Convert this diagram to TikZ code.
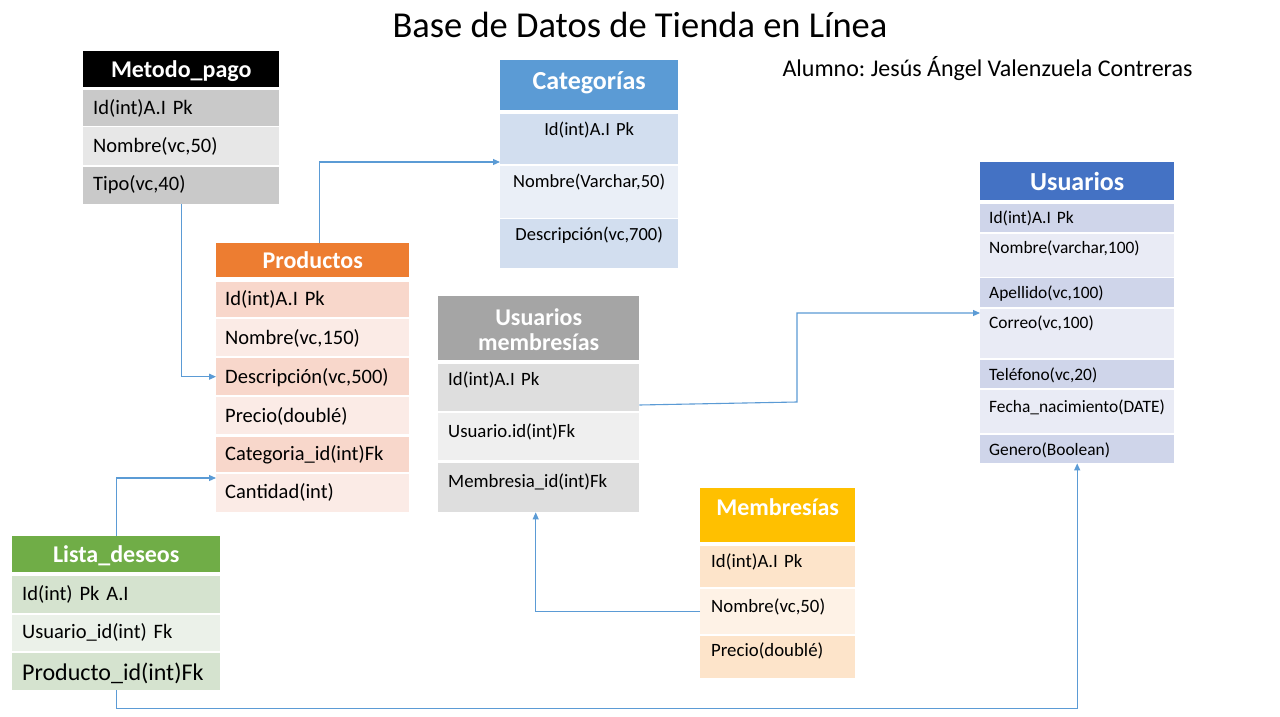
\documentclass[tikz,border=0pt]{standalone}
\usepackage{fontspec}
\setmainfont{Carlito}
\frenchspacing
\usetikzlibrary{arrows.meta}

\definecolor{azul}{HTML}{5B9BD5}
\definecolor{pagoA}{HTML}{C9C9C9}
\definecolor{pagoB}{HTML}{E7E7E7}
\definecolor{catH}{HTML}{5B9BD5}
\definecolor{catA}{HTML}{D2DEEF}
\definecolor{catB}{HTML}{EAEFF7}
\definecolor{usuH}{HTML}{4472C4}
\definecolor{usuA}{HTML}{CFD5EA}
\definecolor{usuB}{HTML}{E9EBF5}
\definecolor{prodH}{HTML}{ED7D31}
\definecolor{prodA}{HTML}{F8D7CB}
\definecolor{prodB}{HTML}{FBEBE6}
\definecolor{umH}{HTML}{A5A5A5}
\definecolor{umA}{HTML}{DEDEDE}
\definecolor{umB}{HTML}{EFEFEF}
\definecolor{memH}{HTML}{FFC000}
\definecolor{memA}{HTML}{FDE4CA}
\definecolor{memB}{HTML}{FEF2E6}
\definecolor{listaH}{HTML}{70AD47}
\definecolor{listaA}{HTML}{D5E3CF}
\definecolor{listaB}{HTML}{EBF1E9}

\tikzset{
  fila/.style n args={3}{anchor=north west, inner ysep=0pt, align=left, fill=#1, text height=#2pt, text depth=#3pt},
  cabecera/.style={align=center, text=white, font=\bfseries\fontsize{24}{25}\selectfont},
  tpago/.style={text width=176pt, inner xsep=10pt, font=\fontsize{20.5}{24}\selectfont},
  tprod/.style={text width=175pt, inner xsep=9pt, font=\fontsize{20.5}{24}\selectfont},
  tcat/.style={text width=168pt, inner xsep=5pt, align=center, font=\fontsize{18.5}{22}\selectfont},
  tusu/.style={text width=176pt, inner xsep=9pt, font=\fontsize{17.4}{20}\selectfont},
  tum/.style={text width=181pt, inner xsep=10pt, font=\fontsize{18.8}{22}\selectfont},
  tmem/.style={text width=133pt, inner xsep=11pt, font=\fontsize{18.8}{22}\selectfont},
  tlista/.style={text width=188pt, inner xsep=10pt, font=\fontsize{20.5}{24}\selectfont},
  conector/.style={draw=azul, line width=1.1pt, ->},
}

\begin{document}
\begin{tikzpicture}[x=1pt, y=-1pt, >={Triangle[length=7pt,width=6pt]}]
\fill[white] (0,0) rectangle (1280,717);
\useasboundingbox (0,0) rectangle (1280,717);

\node[anchor=base, font=\fontsize{36.5}{40}\selectfont] (titulo) at (640,38) {Base de Datos de Tienda en Línea};
\node[anchor=base west, font=\fontsize{24}{28}\selectfont] (alumno) at (779,77) {Alumno: Jesús Ángel Valenzuela Contreras};

% Metodo_pago
\node[fila={black}{26}{10}, tpago, cabecera] (pago) at (83,51) {Metodo\_pago};
\node[fila={pagoA}{24}{12}, tpago] (pago1) at (83,90) {Id(int)A.I Pk};
\node[fila={pagoB}{25}{13}, tpago] (pago2) at (83,127) {Nombre(vc,50)};
\node[fila={pagoA}{23}{14}, tpago] (pago3) at (83,167) {Tipo(vc,40)};

% Categorias
\node[fila={catH}{29}{21}, tcat, cabecera, font=\bfseries\fontsize{26}{28}\selectfont] (cat) at (500,60) {Categorías};
\node[fila={catA}{21}{29}, tcat] (cat1) at (500,114) {Id(int)A.I Pk};
\node[fila={catB}{21}{31}, tcat] (cat2) at (500,166) {Nombre(Varchar,50)};
\node[fila={catA}{21}{28}, tcat] (cat3) at (500,219) {Descripción(vc,700)};

% Usuarios
\node[fila={usuH}{28}{10}, tusu, cabecera, font=\bfseries\fontsize{26}{28}\selectfont] (usu) at (980,162) {Usuarios};
\node[fila={usuA}{19}{9}, tusu] (usu1) at (980,204) {Id(int)A.I Pk};
\node[fila={usuB}{19}{24}, tusu] (usu2) at (980,234) {Nombre(varchar,100)};
\node[fila={usuA}{20}{9}, tusu] (usu3) at (980,278) {Apellido(vc,100)};
\node[fila={usuB}{19}{30}, tusu] (usu4) at (980,309) {Correo(vc,100)};
\node[fila={usuA}{20}{8}, tusu] (usu5) at (980,360) {Teléfono(vc,20)};
\node[fila={usuB}{22}{21}, tusu] (usu6) at (980,390) {Fecha\_nacimiento(DATE)};
\node[fila={usuA}{20}{8}, tusu] (usu7) at (980,435) {Genero(Boolean)};

% Productos
\node[fila={prodH}{25}{9}, tprod, cabecera] (prod) at (216,243) {Productos};
\node[fila={prodA}{23}{12}, tprod] (prod1) at (216,282) {Id(int)A.I Pk};
\node[fila={prodB}{25}{12}, tprod] (prod2) at (216,319) {Nombre(vc,150)};
\node[fila={prodA}{25}{12}, tprod] (prod3) at (216,358) {Descripción(vc,500)};
\node[fila={prodB}{25}{12}, tprod] (prod4) at (216,397) {Precio(doublé)};
\node[fila={prodA}{23}{12}, tprod] (prod5) at (216,437) {Categoria\_id(int)Fk};
\node[fila={prodB}{24}{14}, tprod] (prod6) at (216,474) {Cantidad(int)};

% Usuarios membresias
\node[fila={umH}{29}{35}, tum, cabecera] (um) at (438,296) {Usuarios\\membresías};
\node[fila={umA}{21}{26}, tum] (um1) at (438,364) {Id(int)A.I Pk};
\node[fila={umB}{24}{23}, tum] (um2) at (438,413) {Usuario.id(int)Fk};
\node[fila={umA}{24}{25}, tum] (um3) at (438,463) {Membresia\_id(int)Fk};

% Membresias
\node[fila={memH}{27}{27}, tmem, cabecera] (mem) at (700,488) {Membresías};
\node[fila={memA}{21}{20}, tmem] (mem1) at (700,546) {Id(int)A.I Pk};
\node[fila={memB}{23}{22}, tmem] (mem2) at (700,589) {Nombre(vc,50)};
\node[fila={memA}{20}{22}, tmem] (mem3) at (700,636) {Precio(doublé)};

% Lista_deseos
\node[fila={listaH}{26}{10}, tlista, cabecera] (lista) at (12,536) {Lista\_deseos};
\node[fila={listaA}{24}{13}, tlista] (lista1) at (12,576) {Id(int) Pk A.I};
\node[fila={listaB}{23}{13}, tlista] (lista2) at (12,615) {Usuario\_id(int) Fk};
\node[fila={listaA}{27}{10}, tlista, font=\fontsize{24}{28}\selectfont] (lista3) at (12,653) {Producto\_id(int)Fk};

\coordinate (codo) at (797,402);

\draw[conector] (pago3.south) |- (prod3.west);
\draw[conector] ([xshift=7pt]prod.north) |- ([yshift=4pt]cat2.north west);
\draw[conector] (lista.north) |- ([yshift=-4pt]prod6.north west);
\draw[conector] (lista3.south) -- ++(0,18) -| (usu7.south);
\draw[conector] ([yshift=8pt]um2.north east) -- (codo) |- ([yshift=-4pt]usu4.north west);
\draw[conector] (mem2.west) -| ([xshift=-3pt]um3.south);
\end{tikzpicture}
\end{document}
